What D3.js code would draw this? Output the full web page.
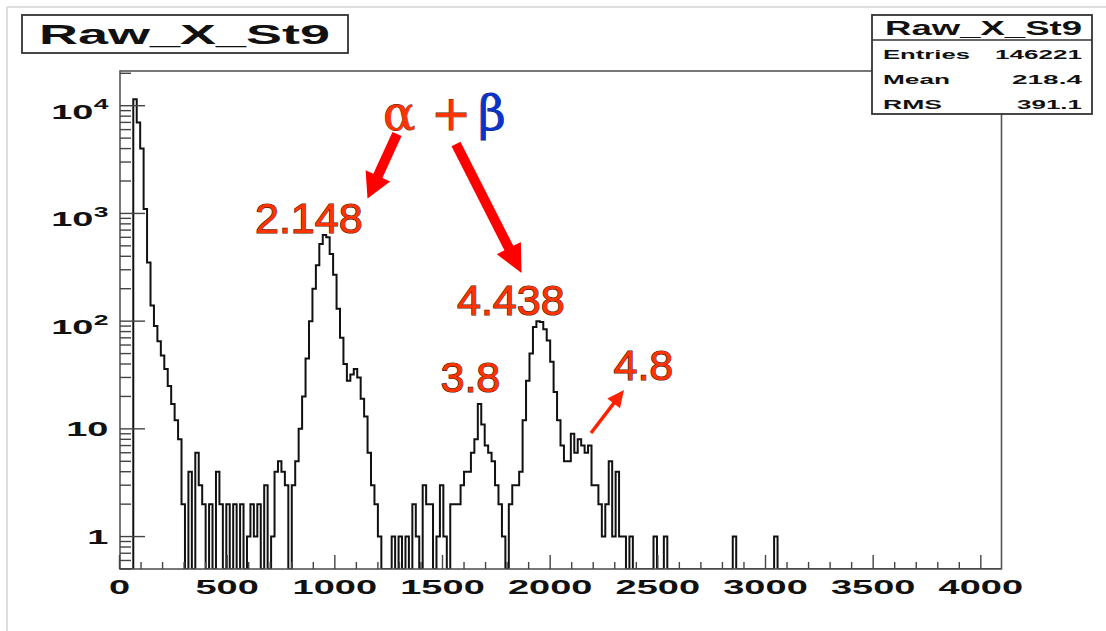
<!DOCTYPE html>
<html>
<head>
<meta charset="utf-8">
<script src="https://cdn.jsdelivr.net/npm/d3@7"></script>
<style>
  body { margin: 0; background: #fff; }
  svg { display: block; }
</style>
</head>
<body>
<div id="chart"></div>
<script>
// histogram: 256 bins of 16 ADC counts over 0..4096, counts (bins 0..191, rest empty)
var binWidth = 16;
var nBins = 256;
var counts = [
  0, 0, 0, 0, 11500, 7000, 4000, 1100, 350, 140,
  90, 65, 48, 36, 25, 17, 12, 8, 2, 0,
  4, 0, 6, 3, 2, 0, 2, 0, 4, 2,
  0, 2, 0, 2, 0, 2, 0, 1, 2, 1,
  2, 0, 3, 0, 1, 4, 5, 4, 3, 0,
  3, 5, 10, 20, 45, 100, 200, 330, 520, 630,
  600, 420, 270, 130, 70, 40, 28, 32, 36, 30,
  19, 13, 6, 3, 2, 1, 0, 0, 0, 1,
  0, 1, 0, 1, 0, 2, 1, 0, 3, 2,
  2, 0, 1, 3, 1, 0, 2, 2, 2, 3,
  4, 4, 6, 8, 17, 11, 7, 6, 5, 3,
  2, 1, 0, 2, 3, 3, 4, 12, 28, 50,
  88, 100, 98, 84, 66, 42, 22, 12, 7, 5,
  5, 9, 6, 8, 7, 6, 7, 3, 3, 2,
  1, 2, 5, 1, 4, 1, 1, 0, 1, 0,
  0, 0, 0, 0, 0, 1, 0, 0, 1, 0,
  0, 0, 0, 0, 0, 0, 0, 0, 0, 0,
  0, 0, 0, 0, 0, 0, 0, 0, 1, 0,
  0, 0, 0, 0, 0, 0, 0, 0, 0, 0,
  1, 0
];
while (counts.length < nBins) counts.push(0);

var histName = "Raw_X_St9";
var statLabels = ["Entries", "Mean", "RMS"];
var statValues = ["146221", "218.4", "391.1"];

var xTicksMajor = [0, 500, 1000, 1500, 2000, 2500, 3000, 3500, 4000];
var yDecades = [1, 10, 100, 1000, 10000];

// annotations: peak energies (MeV)
var peakLabels = ["2.148", "4.438", "3.8", "4.8"];

var W = 1106, H = 631;
var frame = {left: 120, right: 1001.5, top: 71, bottom: 569};

var svg = d3.select("#chart").append("svg")
  .attr("width", W).attr("height", H);

// outer light border
svg.append("line").attr("x1", 7).attr("y1", 7).attr("x2", W).attr("y2", 7)
  .attr("stroke", "#d4d4d4").attr("stroke-width", 1.5);
svg.append("line").attr("x1", 7).attr("y1", 7).attr("x2", 7).attr("y2", H)
  .attr("stroke", "#d4d4d4").attr("stroke-width", 1.5);

var x = d3.scaleLinear().domain([0, 4096]).range([119.5, 1001.5]);
var y = d3.scaleLog().domain([0.5, 21000]).range([frame.bottom, frame.top]).clamp(true);

var SX = 1.9; // the picture is stretched sideways
function wideText(g, tx, ty, txt, size, anchor, sx) {
  return g.append("g")
    .attr("transform", "translate(" + tx + "," + ty + ") scale(" + (sx || SX) + ",1)")
    .append("text")
    .attr("text-anchor", anchor)
    .attr("font-family", "'Liberation Sans', Arial, sans-serif")
    .attr("font-weight", "bold")
    .attr("font-size", size)
    .attr("fill", "#111")
    .text(txt);
}

// histogram step line
var pts = [];
counts.forEach(function(c, i) {
  var v = c > 0 ? c : 0.01;
  pts.push([x(i * binWidth), y(v)]);
  pts.push([x((i + 1) * binWidth), y(v)]);
});
svg.append("clipPath").attr("id", "fr").append("rect")
  .attr("x", frame.left).attr("y", frame.top)
  .attr("width", frame.right - frame.left).attr("height", frame.bottom - frame.top);
svg.append("path")
  .datum(pts)
  .attr("clip-path", "url(#fr)")
  .attr("fill", "none")
  .attr("stroke", "#111")
  .attr("stroke-width", 2)
  .attr("stroke-linejoin", "miter")
  .attr("d", d3.line());

// frame
svg.append("rect")
  .attr("x", frame.left).attr("y", frame.top)
  .attr("width", frame.right - frame.left).attr("height", frame.bottom - frame.top)
  .attr("fill", "none").attr("stroke", "#555").attr("stroke-width", 1.6);

// y axis ticks (log)
var yAx = svg.append("g");
yDecades.concat([0.1]).forEach(function(d) {
  for (var m = 1; m <= 9; m++) {
    var v = d * m;
    if (v < 0.5 || v > 21000) continue;
    var len = m === 1 ? 25 : 11;
    yAx.append("line")
      .attr("x1", frame.left).attr("x2", frame.left + len)
      .attr("y1", y(v)).attr("y2", y(v))
      .attr("stroke", "#444").attr("stroke-width", 1.4);
  }
});
yDecades.forEach(function(d) {
  var ty = y(d);
  var p = Math.round(Math.log10(d));
  if (p < 2) {
    wideText(yAx, 108.5, ty + 7, String(d), 20, "end");
  } else {
    wideText(yAx, 93.5, ty + 13, "10", 20, "end");
    wideText(yAx, 108.5, ty + 3.5, String(p), 14, "end");
  }
});

// x axis ticks
var xAx = svg.append("g");
d3.range(0, 4001, 100).forEach(function(v) {
  var len = v % 500 === 0 ? 14 : 7;
  xAx.append("line")
    .attr("x1", x(v)).attr("x2", x(v))
    .attr("y1", frame.bottom).attr("y2", frame.bottom - len)
    .attr("stroke", "#444").attr("stroke-width", 1.4);
});
xTicksMajor.forEach(function(v) {
  wideText(xAx, x(v), 594, String(v), 20, "middle");
});

// title box
svg.append("rect").attr("x", 22).attr("y", 15).attr("width", 326).attr("height", 38)
  .attr("fill", "#fff").attr("stroke", "#333").attr("stroke-width", 1.8);
svg.append("text").attr("x", 39).attr("y", 44)
  .attr("font-family", "'Liberation Sans', Arial, sans-serif")
  .attr("font-weight", "bold").attr("font-size", 28)
  .attr("textLength", 291).attr("lengthAdjust", "spacingAndGlyphs")
  .attr("fill", "#111").text(histName);

// stats box
var sb = svg.append("g");
sb.append("rect").attr("x", 872).attr("y", 15).attr("width", 220).attr("height", 99)
  .attr("fill", "#fff").attr("stroke", "#333").attr("stroke-width", 1.8);
sb.append("line").attr("x1", 872).attr("x2", 1092).attr("y1", 40).attr("y2", 40)
  .attr("stroke", "#333").attr("stroke-width", 1.4);
sb.append("text").attr("x", 885).attr("y", 35)
  .attr("font-family", "'Liberation Sans', Arial, sans-serif")
  .attr("font-weight", "bold").attr("font-size", 19.5)
  .attr("textLength", 197).attr("lengthAdjust", "spacingAndGlyphs")
  .attr("fill", "#111").text(histName);
var labW = [87, 67, 59], valW = [87, 70, 65];
statLabels.forEach(function(s, i) {
  var by = 58.5 + i * 25;
  sb.append("text").attr("x", 883).attr("y", by)
    .attr("font-family", "'Liberation Sans', Arial, sans-serif")
    .attr("font-weight", "bold").attr("font-size", 13)
    .attr("textLength", labW[i]).attr("lengthAdjust", "spacingAndGlyphs")
    .attr("fill", "#111").text(s);
  sb.append("text").attr("x", 1082 - valW[i]).attr("y", by)
    .attr("font-family", "'Liberation Sans', Arial, sans-serif")
    .attr("font-weight", "bold").attr("font-size", 13)
    .attr("textLength", valW[i]).attr("lengthAdjust", "spacingAndGlyphs")
    .attr("fill", "#111").text(statValues[i]);
});

// annotations
var ann = svg.append("g");
function arrow(x1, y1, x2, y2, sw, hl, hw, col) {
  var dx = x2 - x1, dy = y2 - y1, L = Math.sqrt(dx * dx + dy * dy);
  var ux = dx / L, uy = dy / L, nx = -uy, ny = ux;
  var bx = x2 - ux * hl, by = y2 - uy * hl;
  ann.append("line").attr("x1", x1).attr("y1", y1).attr("x2", bx + ux * 2).attr("y2", by + uy * 2)
    .attr("stroke", col).attr("stroke-width", sw);
  ann.append("path")
    .attr("d", "M" + x2 + "," + y2 + "L" + (bx + nx * hw / 2) + "," + (by + ny * hw / 2) +
      "L" + (bx - nx * hw / 2) + "," + (by - ny * hw / 2) + "Z")
    .attr("fill", col);
}
arrow(397, 134, 367.5, 198.5, 10, 25, 27, "#ff0000");
arrow(456, 144, 521.5, 273, 10, 28, 27, "#ff0000");
arrow(591, 433, 624, 390, 3.5, 17, 16, "#ff2200");

var peakPos = [[255, 233], [457, 315], [440.5, 391.5], [613.5, 380]];
peakLabels.forEach(function(t, i) {
  ann.append("text").attr("x", peakPos[i][0]).attr("y", peakPos[i][1])
    .attr("font-family", "'Liberation Sans', Arial, sans-serif")
    .attr("font-size", 43)
    .attr("fill", "#ff3300")
    .attr("stroke", "#4a1608").attr("stroke-width", 1.2)
    .attr("paint-order", "stroke")
    .text(t);
});
var greek = [["α", 383, "#ff3300"], ["+", 431, "#ff3300"], ["β", 478, "#0a33cc"]];
greek.forEach(function(g) {
  ann.append("text").attr("x", g[1]).attr("y", 130)
    .attr("font-family", "'DejaVu Serif', 'Liberation Serif', serif")
    .attr("font-size", 48)
    .attr("fill", g[2])
    .attr("stroke", g[2] === "#0a33cc" ? "#061a66" : "#4a1608").attr("stroke-width", 0.8)
    .attr("paint-order", "stroke")
    .text(g[0]);
});
</script>
</body>
</html>
